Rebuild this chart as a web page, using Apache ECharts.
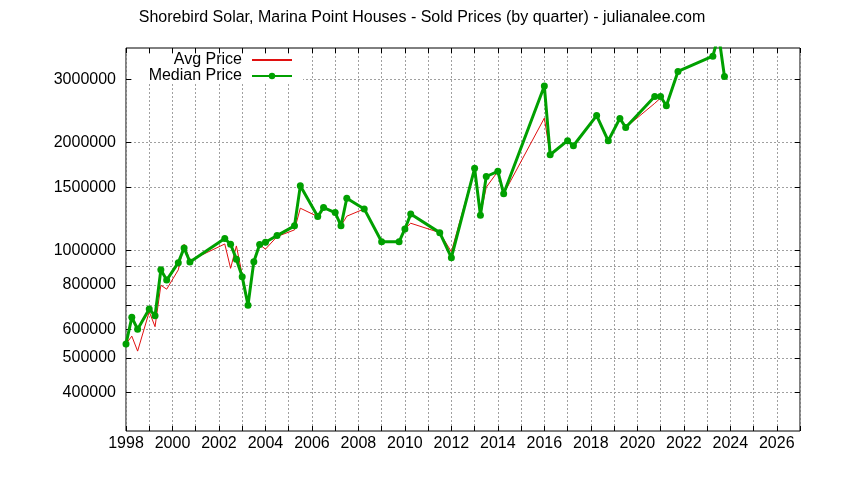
<!DOCTYPE html>
<html><head><meta charset="utf-8">
<script src="https://cdn.jsdelivr.net/npm/echarts@6/dist/echarts.min.js"></script>
<style>html,body{margin:0;padding:0;background:#fff}#c{width:844px;height:480px}</style>
</head><body><div id="c"></div>
<script>
const titleText = 'Shorebird Solar, Marina Point Houses - Sold Prices (by quarter) - julianalee.com';
const seriesNames = ['Avg Price', 'Median Price'];
const quarters = [1998.0,1998.25,1998.5,1999.0,1999.25,1999.5,1999.75,2000.25,2000.5,2000.75,
  2002.25,2002.5,2002.75,2003.0,2003.25,2003.5,2003.75,2004.0,2004.5,2005.25,
  2005.5,2006.25,2006.5,2007.0,2007.25,2007.5,2008.25,2009.0,2009.75,2010.0,
  2010.25,2011.5,2012.0,2013.0,2013.25,2013.5,2014.0,2014.25,2016.0,2016.25,
  2017.0,2017.25,2018.25,2018.75,2019.25,2019.5,2020.75,2021.0,2021.25,2021.75,
  2023.25,2023.5,2023.75];
const medianPrices = [546500,649000,601000,685000,656000,882000,825000,923000,1015000,927000,
  1078000,1039000,944000,843000,702000,929000,1037000,1053000,1099000,1170000,
  1514000,1242000,1316000,1275000,1170000,1398000,1305000,1056000,1056000,1147000,
  1262000,1120000,953000,1695000,1253000,1608000,1662000,1438000,2880000,1850000,
  2026000,1960000,2381000,2024000,2338000,2205000,2693000,2693000,2536000,3164000,
  3491000,4000000,3063000];
const avgPrices = [546500,575000,522000,673000,611000,798000,778000,881000,1039000,935000,
  1041000,890000,1028000,853000,710000,920000,1037000,1007000,1092000,1140000,
  1311000,1242000,1316000,1275000,1170000,1245000,1305000,1056000,1056000,1147000,
  1190000,1120000,990000,1695000,1253000,1500000,1662000,1438000,2343000,1850000,
  2026000,1960000,2381000,2024000,2338000,2205000,2577000,2666000,2536000,3164000,
  3491000,4000000,3063000];
const yLabelTicks = [400000,500000,600000,800000,1000000,1500000,2000000,3000000];
const yGridTicks = [400000,500000,600000,700000,800000,900000,1000000,1500000,2000000,3000000];

const FONT = '"Liberation Sans", Arial, Helvetica, sans-serif';
const chart = echarts.init(document.getElementById('c'), null, {renderer: 'canvas'});
const tickStyle = {show: true, inside: true, length: 5, lineStyle: {color: '#000', width: 1}};
const gridLine = {show: true, lineStyle: {color: '#a0a0a0', type: [2, 2], width: 1}};
const xBase = {type: 'value', min: 1998, max: 2027, interval: 1, axisLine: {show: false}};
const yBase = {type: 'log', logBase: 10, min: 312000, max: 3680000, axisLine: {show: false}};
const labelStyle = {fontFamily: FONT, fontSize: 16, color: '#000'};

const option = {
  animation: false,
  backgroundColor: '#fff',
  title: {text: titleText, left: 'center', top: 5,
    textStyle: {fontFamily: FONT, fontSize: 16, fontWeight: 'normal', color: '#000'}},
  grid: {left: 126, right: 44, top: 48, bottom: 49, show: true, borderColor: '#000', borderWidth: 1},
  graphic: [{type: 'rect', shape: {x: 132, y: 54, width: 171, height: 29}, style: {fill: '#fff'}, z: 1, silent: true}],
  legend: [
    {data: [seriesNames[0]], right: 551, top: 52, align: 'right', padding: 0, itemWidth: 40, itemHeight: 8,
      itemStyle: {color: 'rgba(0,0,0,0)', borderColor: 'rgba(0,0,0,0)', borderWidth: 0},
      textStyle: Object.assign({padding: [0, 5, 0, 0]}, labelStyle), z: 5},
    {data: [seriesNames[1]], right: 551, top: 68, align: 'right', padding: 0, itemWidth: 40, itemHeight: 8,
      textStyle: Object.assign({padding: [0, 5, 0, 0]}, labelStyle), z: 5}
  ],
  xAxis: [
    Object.assign({}, xBase, {position: 'bottom', axisTick: tickStyle,
      axisLabel: Object.assign({margin: 5, formatter: v => (v % 2 === 0 ? String(v) : '')}, labelStyle),
      splitLine: gridLine}),
    Object.assign({}, xBase, {position: 'top', axisTick: tickStyle, axisLabel: {show: false}, splitLine: {show: false}})
  ],
  yAxis: [
    Object.assign({}, yBase, {position: 'left',
      axisTick: Object.assign({customValues: yGridTicks}, tickStyle),
      axisLabel: Object.assign({customValues: yLabelTicks, margin: 10, formatter: v => String(Math.round(v))}, labelStyle),
      splitLine: gridLine}),
    Object.assign({}, yBase, {position: 'right',
      axisTick: Object.assign({customValues: yGridTicks}, tickStyle),
      axisLabel: {show: false}, splitLine: {show: false}})
  ],
  series: [
    {name: seriesNames[0], type: 'line', xAxisIndex: 0, yAxisIndex: 0,
      data: quarters.map((x, i) => [x, avgPrices[i]]),
      symbol: 'none', lineStyle: {color: '#e01010', width: 1}, itemStyle: {color: '#e01010'}, z: 2},
    {name: seriesNames[1], type: 'line', xAxisIndex: 0, yAxisIndex: 0,
      data: quarters.map((x, i) => [x, medianPrices[i]]),
      symbol: 'circle', symbolSize: 7, lineStyle: {color: '#00a000', width: 3}, itemStyle: {color: '#00a000'}, z: 3}
  ]
};
chart.setOption(option);
</script></body></html>
